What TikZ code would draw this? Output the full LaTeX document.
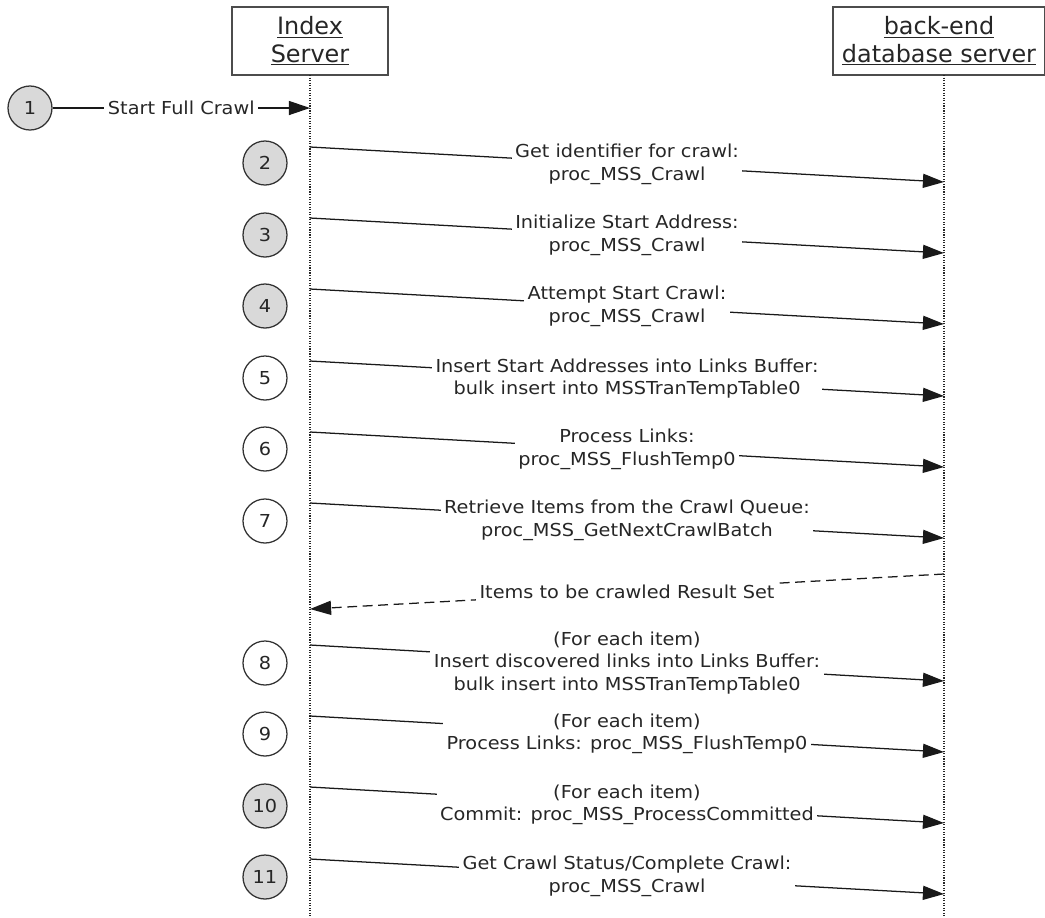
\documentclass[tikz,border=0pt]{standalone}
\usepackage{fontspec}
\setmainfont{DejaVu Sans}
\newfontfamily\msgfont{DejaVu Sans}[FakeStretch=1.08]
\usetikzlibrary{shapes,arrows.meta}
\tikzstyle{party} = [rectangle, draw=black!70, line width=0.9pt, align=center,
    minimum height=1.7cm, font=\fontsize{17}{19.5}\selectfont]
\tikzstyle{stepno} = [circle, draw=black!80, line width=0.9pt, minimum size=1.1cm, inner sep=0pt]
\tikzstyle{lifeline} = [draw=black!85, line width=0.8pt, dash pattern=on 0.8pt off 1pt]

\begin{document}
\begin{tikzpicture}[x=0.025cm, y=-0.025cm, text=black!85,
    font=\msgfont\fontsize{12.7}{16}\selectfont,
    msg/.style={draw=black!90, line width=0.9pt, -{Triangle[length=15pt, width=10pt]}, every node/.style={fill=white, align=center, inner sep=2.5pt}},
    reply/.style={msg, dash pattern=on 7pt off 4pt}]
\useasboundingbox (0,0) rectangle (1045,917);

% the two parties and their lifelines
\node [party, minimum width=3.9cm] at (310,41) (isrv) {\underline{Index}\\\underline{Server}};
\node [party, minimum width=5.3cm] at (939,41) (dbsrv) {\underline{back-end}\\\underline{database server}};
\coordinate (istop) at (310,75);
\coordinate (isbot) at (310,917);
\coordinate (dbtop) at (944,75);
\coordinate (dbbot) at (944,917);
\draw [lifeline] (istop) -- (isbot);
\draw [lifeline] (dbtop) -- (dbbot);

% step numbers
\node [stepno, fill=black!15] at (30,108) (c1) {1};
\node [stepno, fill=black!15] at (265,163) (c2) {2};
\node [stepno, fill=black!15] at (265,235) (c3) {3};
\node [stepno, fill=black!15] at (265,306) (c4) {4};
\node [stepno, fill=white] at (265,378) (c5) {5};
\node [stepno, fill=white] at (265,449) (c6) {6};
\node [stepno, fill=white] at (265,521) (c7) {7};
\node [stepno, fill=white] at (265,663) (c8) {8};
\node [stepno, fill=white] at (265,734) (c9) {9};
\node [stepno, fill=black!15] at (265,806) (c10) {10};
\node [stepno, fill=black!15] at (265,877) (c11) {11};

% message ends on the lifelines
\coordinate (a1) at (310,108);
\coordinate (s2) at (310,147);  \coordinate (e2) at (944,182);
\coordinate (s3) at (310,218);  \coordinate (e3) at (944,253);
\coordinate (s4) at (310,289);  \coordinate (e4) at (944,324);
\coordinate (s5) at (310,361);  \coordinate (e5) at (944,396);
\coordinate (s6) at (310,432);  \coordinate (e6) at (944,467);
\coordinate (s7) at (310,503);  \coordinate (e7) at (944,538);
\coordinate (rs) at (944,574);  \coordinate (re) at (310,609);
\coordinate (s8) at (310,645);  \coordinate (e8) at (944,681);
\coordinate (s9) at (310,716);  \coordinate (e9) at (944,752);
\coordinate (s10) at (310,787); \coordinate (e10) at (944,823);
\coordinate (s11) at (310,859); \coordinate (e11) at (944,894);

\draw [msg] (c1) -- node {Start Full Crawl} (a1);
\draw [msg] (s2) -- node {Get identifier for crawl:\\proc\_MSS\_Crawl} (e2);
\draw [msg] (s3) -- node {Initialize Start Address:\\proc\_MSS\_Crawl} (e3);
\draw [msg] (s4) -- node {Attempt Start Crawl:\\proc\_MSS\_Crawl} (e4);
\draw [msg] (s5) -- node {Insert Start Addresses into Links Buffer:\\bulk insert into MSSTranTempTable0} (e5);
\draw [msg] (s6) -- node {Process Links:\\proc\_MSS\_FlushTemp0} (e6);
\draw [msg] (s7) -- node {Retrieve Items from the Crawl Queue:\\proc\_MSS\_GetNextCrawlBatch} (e7);
\draw [reply] (rs) -- node {Items to be crawled Result Set} (re);
\draw [msg] (s8) -- node {(For each item)\\Insert discovered links into Links Buffer:\\bulk insert into MSSTranTempTable0} (e8);
\draw [msg] (s9) -- node {(For each item)\\Process Links: proc\_MSS\_FlushTemp0} (e9);
\draw [msg] (s10) -- node {(For each item)\\Commit: proc\_MSS\_ProcessCommitted} (e10);
\draw [msg] (s11) -- node {Get Crawl Status/Complete Crawl:\\proc\_MSS\_Crawl} (e11);
\end{tikzpicture}
\end{document}
